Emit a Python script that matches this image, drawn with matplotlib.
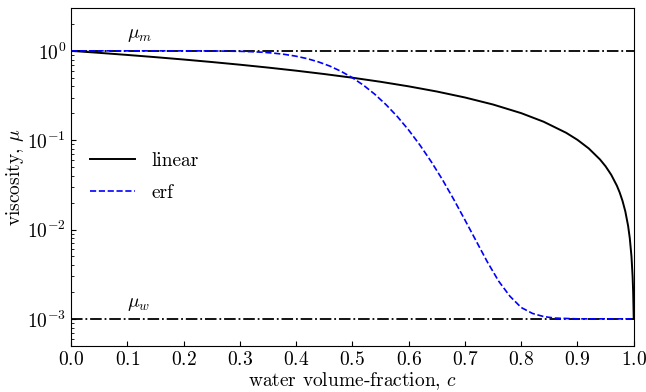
import matplotlib
matplotlib.use("Agg")
import matplotlib.pyplot as plt
import numpy as np

plt.rcParams["font.family"] = "cmr10"
plt.rcParams["mathtext.fontset"] = "cm"
plt.rcParams["axes.formatter.use_mathtext"] = True
plt.rcParams["axes.unicode_minus"] = False

# viscosity limits
mu_m = 1.0
mu_w = 1e-3

# linear mixing curve
c_lin = [0.0, 0.05, 0.1, 0.15, 0.2, 0.25, 0.3, 0.35, 0.4, 0.45, 0.5, 0.55,
         0.6, 0.65, 0.7, 0.75, 0.8, 0.84, 0.88, 0.9, 0.92, 0.94, 0.95, 0.96,
         0.97, 0.975, 0.98, 0.985, 0.99, 0.993, 0.996, 0.998, 0.999, 1.0]
mu_lin = [1.0, 0.950, 0.900, 0.850, 0.800, 0.750, 0.700, 0.650, 0.600, 0.550,
          0.5005, 0.4506, 0.4006, 0.3507, 0.3007, 0.2508, 0.2008, 0.1608,
          0.1209, 0.1009, 0.0809, 0.0609, 0.0510, 0.0410, 0.0310, 0.0260,
          0.0210, 0.0160, 0.0110, 0.0080, 0.0050, 0.0030, 0.0020, 0.001]

# erf curve
c_erf = [0.0, 0.1, 0.2, 0.25, 0.3, 0.32, 0.34, 0.36, 0.38, 0.4, 0.42, 0.44,
         0.46, 0.48, 0.5, 0.52, 0.54, 0.56, 0.58, 0.6, 0.62, 0.64, 0.66, 0.68,
         0.7, 0.72, 0.74, 0.76, 0.78, 0.8, 0.82, 0.84, 0.86, 0.88, 0.9, 0.95, 1.0]
mu_erf = [1.0, 1.0, 0.9997, 0.9977, 0.988, 0.979, 0.965, 0.943, 0.912, 0.871,
          0.817, 0.751, 0.675, 0.589, 0.5005, 0.411, 0.326, 0.249, 0.1835,
          0.1298, 0.0882, 0.0576, 0.0362, 0.0218, 0.0128, 0.00743, 0.00432,
          0.00264, 0.00179, 0.00134, 0.00115, 0.00106, 0.00102, 0.00101,
          0.001, 0.001, 0.001]

fs = 14

fig = plt.figure(figsize=(6.46, 3.92), dpi=100)
ax = fig.add_axes([0.110, 0.118, 0.871, 0.861])

ax.axhline(mu_m, color="k", ls="-.", lw=1.3)
ax.axhline(mu_w, color="k", ls="-.", lw=1.3)
ax.plot(c_lin, mu_lin, "k-", lw=1.4, label="linear")
ax.plot(c_erf, mu_erf, "b--", lw=1.2, label="erf")

ax.text(0.1, 1.5, r"$\mu_m$", fontsize=fs, ha="left", va="center")
ax.text(0.1, 1.46e-3, r"$\mu_w$", fontsize=fs, ha="left", va="center")

ax.set_yscale("log")
ax.set_xlim(0, 1)
ax.set_ylim(5e-4, 3)
ax.set_xticks(np.arange(0, 1.01, 0.1))
ax.tick_params(which="both", direction="in", labelsize=fs)
ax.set_xlabel(r"water volume-fraction, $c$", fontsize=fs, labelpad=1)
ax.set_ylabel(r"viscosity, $\mu$", fontsize=fs, labelpad=1)

ax.legend(loc="center left", bbox_to_anchor=(0.02, 0.50), borderaxespad=0,
          frameon=False, fontsize=fs, handlelength=2.3, handletextpad=0.85,
          labelspacing=0.75)

fig.savefig("out.png", dpi=100)
